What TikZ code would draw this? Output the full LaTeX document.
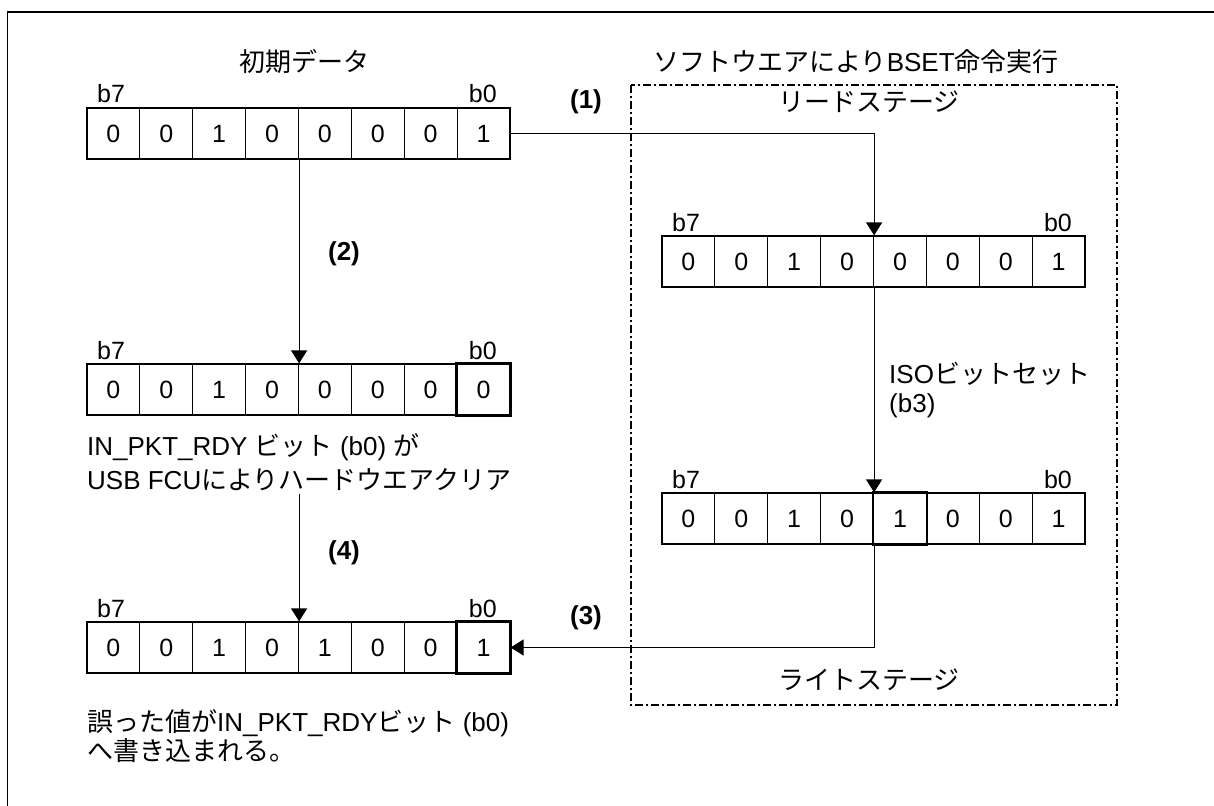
\documentclass[tikz,border=0pt]{standalone}
\usepackage{fontspec}
\setmainfont{Liberation Sans}
\newfontfamily\jp{Noto Sans CJK JP}
\usetikzlibrary{arrows.meta}
\tikzset{
  cell/.style={draw, line width=1.2pt, minimum width=52.875pt, minimum height=51pt, inner sep=0pt, font=\fontsize{25}{30}\selectfont},
  conn/.style={line width=1.2pt, -{Triangle[length=13pt,width=16pt]}},
  lbl/.style={inner sep=0pt, font=\fontsize{26}{30}\selectfont},
  bitlbl/.style={inner sep=0pt, font=\fontsize{25}{30}\selectfont},
  numlbl/.style={inner sep=0pt, font=\fontsize{26}{30}\selectfont\bfseries},
  hot/.style={line width=2.6pt},
  stagebox/.style={line width=2pt, dash pattern=on 8pt off 3pt on 2pt off 3pt},
  frameline/.style={line width=1.3pt}
}
\newcommand\bitreg[4]{%
  \foreach \b [count=\i] in {#4} {
    \node[cell] (#1-\i) at ({#2+(\i-0.5)*52.875},{#3+25.5}) {\b};
  }
  \node[bitlbl, anchor=base west] (#1-b7) at ({#2+10},{#3-5}) {b7};
  \node[bitlbl, anchor=base east] (#1-b0) at ({#2+410},{#3-5}) {b0};
}
\begin{document}
\begin{tikzpicture}[x=1pt,y=-1pt]
\path[use as bounding box] (0,0) rectangle (1214,805);
\draw[frameline] (7.5,806) -- (7.5,12) -- (1215,12);
\draw[stagebox] (631,85) rectangle (1117,705);

\node[lbl] (t-init) at (304,62) {\jp 初期データ};
\node[lbl] (t-soft) at (856,62) {{\jp ソフトウエアにより}BSET{\jp 命令実行}};
\node[lbl] (t-read) at (869,102) {\jp リードステージ};
\node[lbl] (t-write) at (869,680) {\jp ライトステージ};

\bitreg{R1}{87}{108}{0,0,1,0,0,0,0,1}
\bitreg{R2}{662}{236}{0,0,1,0,0,0,0,1}
\bitreg{R3}{87}{364}{0,0,1,0,0,0,0,0}
\bitreg{R4}{662}{493}{0,0,1,0,1,0,0,1}
\bitreg{R5}{87}{622}{0,0,1,0,1,0,0,1}

\draw[hot] (R3-8.north west) rectangle (R3-8.south east);
\draw[hot] (R4-5.north west) rectangle (R4-5.south east);
\draw[hot] (R5-8.north west) rectangle (R5-8.south east);

\node[lbl, anchor=base west] (t-clr1) at (87,455) {IN\_PKT\_RDY {\jp ビット} (b0) {\jp が}};
\node[lbl, anchor=base west] (t-clr2) at (87,489) {USB FCU{\jp によりハードウエアクリア}};
\node[lbl, anchor=base west] (t-err1) at (87,731) {{\jp 誤った値が}IN\_PKT\_RDY{\jp ビット} (b0)};
\node[lbl, anchor=base west] (t-err2) at (87,760) {\jp へ書き込まれる。};
\node[lbl, anchor=base west] (t-iso1) at (889,383) {ISO{\jp ビットセット}};
\node[lbl, anchor=base west] (t-iso2) at (889,412) {(b3)};

\node[numlbl] (n1) at (586,102) {(1)};
\node[numlbl] (n2) at (344,254) {(2)};
\node[numlbl] (n3) at (586,618) {(3)};
\node[numlbl] (n4) at (344,553) {(4)};

\path (R5-4.north east) ++(0,-127) coordinate (c4);

\draw[conn] (R1-8.east) -| (R2-4.north east);
\draw[conn] (R1-4.south east) -- (R3-4.north east);
\draw[conn] (R2-4.south east) -- (R4-4.north east);
\draw[conn] (R4-4.south east) |- (R5-8.east);
\draw[conn] (c4) -- (R5-4.north east);
\end{tikzpicture}
\end{document}
